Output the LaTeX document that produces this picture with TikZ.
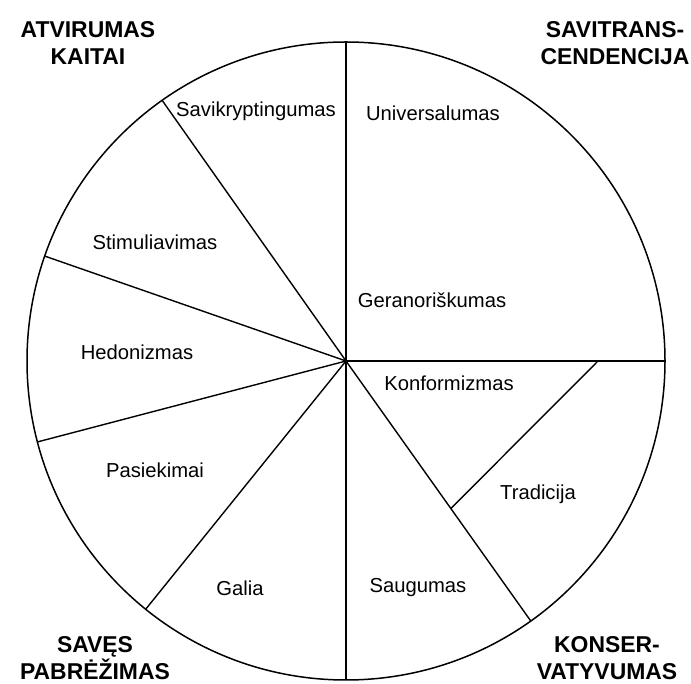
\documentclass[tikz,border=0pt]{standalone}
\usepackage{fontspec}
\setmainfont{Liberation Sans}
\usetikzlibrary{calc}

\tikzset{
  wheel/.style={line width=1.5bp, black},
  spoke/.style={line width=1.4bp, black},
  value/.style={font=\fontsize{20.3}{24}\selectfont, inner sep=0pt},
  group/.style={font=\fontsize{23}{27.5}\selectfont\bfseries, align=center, inner sep=0pt},
}

\begin{document}
\begin{tikzpicture}[x=1bp, y=1bp]
  \useasboundingbox (0,0) rectangle (691,684);

  % centre of the value circle and its rim points
  \coordinate (O) at (346,323);
  \def\R{319}
  \coordinate (rimN)  at ($(O)+(90:\R)$);
  \coordinate (rimE)  at ($(O)+(0:\R)$);
  \coordinate (rimSE) at ($(O)+(-54.6:\R)$);
  \coordinate (rimS)  at ($(O)+(270:\R)$);
  \coordinate (rimSW) at ($(O)+(231.1:\R)$);
  \coordinate (rimW2) at ($(O)+(194.7:\R)$);
  \coordinate (rimW1) at ($(O)+(160.8:\R)$);
  \coordinate (rimNW) at ($(O)+(125.2:\R)$);

  % ends of the chord separating conformity from tradition
  \coordinate (chordA) at ($(O)+(0:252)$);
  \coordinate (chordB) at ($(O)+(-54.6:181)$);

  % rim and spokes
  \draw[wheel] (O) circle[radius=\R];
  \foreach \p in {rimN, rimE, rimSE, rimS, rimSW, rimW2, rimW1, rimNW}
    \draw[spoke] (O) -- (\p);
  \draw[spoke] (chordA) -- (chordB);

  % value labels
  \node[value] (savikr) at (256,573) {Savikryptingumas};
  \node[value] (univ)   at (433,571) {Universalumas};
  \node[value] (stim)   at (155,442) {Stimuliavimas};
  \node[value] (geran)  at (432,384) {Geranoriškumas};
  \node[value] (hedon)  at (137,332) {Hedonizmas};
  \node[value] (konf)   at (449,301) {Konformizmas};
  \node[value] (pasiek) at (155,214) {Pasiekimai};
  \node[value] (trad)   at (538,190) {Tradicija};
  \node[value] (galia)  at (240,96)  {Galia};
  \node[value] (saug)   at (418,96)  {Saugumas};

  % higher-order groups in the corners
  \node[group] (atvir)  at (88,641)  {ATVIRUMAS\\KAITAI};
  \node[group] (savitr) at (615,641) {SAVITRANS-\\CENDENCIJA};
  \node[group] (saves)  at (95,26)   {SAVĘS\\PABRĖŽIMAS};
  \node[group] (konser) at (607,26)  {KONSER-\\VATYVUMAS};
\end{tikzpicture}
\end{document}
